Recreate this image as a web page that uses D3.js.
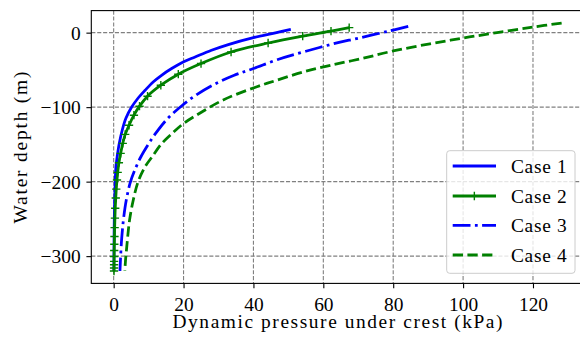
<!DOCTYPE html>
<html>
<head>
<meta charset="utf-8">
<script src="https://cdn.jsdelivr.net/npm/d3@7"></script>
<style>
  html, body { margin: 0; padding: 0; background: #fff; overflow: hidden; }
  svg { display: block; }
</style>
</head>
<body>
<svg id="chart" width="580" height="345"></svg>
<script>
// Tick values
const xTicks = [0, 20, 40, 60, 80, 100, 120];
const yTicks = [0, -100, -200, -300];
const caseNames = ["Case 1", "Case 2", "Case 3", "Case 4"];

// Case 1: water depth (m) and dynamic pressure (kPa)
const case1Depth = [4.4, 0, -6.7, -16, -23.7, -32.7, -39.4, -48.2, -57.2, -66.2, -77.3, -88.4, -99.6, -115, -130, -148.7, -165, -180, -200, -225, -250, -275, -300, -320];
const case1Pressure = [50.7, 46.6, 40.0, 32.8, 28.0, 23.3, 19.9, 16.6, 13.7, 11.3, 9.0, 6.9, 5.2, 3.5, 2.5, 1.6, 1.05, 0.66, 0.45, 0.29, 0.18, 0.12, 0.08, 0.06];

// Case 2
const case2Depth = [6.7, 2.1, -4.6, -13.9, -26.0, -41.5, -55.8, -70.6, -85.3, -98.7, -110.8, -124.3, -136.6, -148.7, -162, -174.6, -187.5, -197.8, -210, -222, -235.7, -249, -261.7, -273.7, -284, -292.5, -300.5, -307, -311.6, -316, -320];
const case2Pressure = [67.4, 62.2, 54.1, 44.2, 33.6, 25.0, 18.5, 13.5, 9.7, 7.4, 5.8, 4.4, 3.3, 2.6, 2.0, 1.5, 1.15, 0.95, 0.75, 0.6, 0.45, 0.36, 0.28, 0.23, 0.19, 0.16, 0.14, 0.13, 0.12, 0.11, 0.1];

// Case 3
const case3Depth = [8.4, 2.4, -8, -13, -25, -36, -48.2, -57.2, -70, -84, -97.8, -115, -135.3, -150, -166.6, -185, -202, -225, -247, -265, -282.6, -300, -320];
const case3Pressure = [84.3, 79.0, 69.5, 64.5, 55.0, 47.0, 40.0, 34.5, 28.5, 23.5, 19.6, 15.5, 12.0, 9.9, 7.8, 6.0, 4.7, 3.6, 2.9, 2.5, 2.2, 2.0, 1.8];

// Case 4
const case4Depth = [12.9, 7.5, 0, -7.2, -15, -24.6, -34.8, -43.8, -53, -64, -72.9, -90, -108.5, -121.9, -135, -148.7, -166.6, -180, -200, -225, -250, -270, -290, -305, -320];
const case4Pressure = [128.2, 120.0, 109.7, 100.0, 90.5, 80.0, 71.0, 62.0, 54.1, 46.6, 40.8, 31.5, 24.5, 20.0, 16.8, 13.8, 11.0, 9.0, 7.0, 5.6, 4.6, 4.1, 3.7, 3.4, 3.2];

// Layout
const plot = { left: 91.3, right: 583.3, top: 10.6, bottom: 283.4 };
const x = d3.scaleLinear().domain([-6.4, 134.4]).range([plot.left, plot.right]);
const y = d3.scaleLinear().domain([-336.6, 29.6]).range([plot.bottom, plot.top]);

const svg = d3.select("#chart");
const FONT = '"Liberation Serif"';
const FS = 19.4;
const LW = 2.78;
const minusFmt = d => d3.format("d")(d).replace("-", "\u2212");

const series = [
  { name: caseNames[0], depth: case1Depth, pressure: case1Pressure, color: "#0000ff", dash: null, marker: false },
  { name: caseNames[1], depth: case2Depth, pressure: case2Pressure, color: "#008000", dash: null, marker: true },
  { name: caseNames[2], depth: case3Depth, pressure: case3Pressure, color: "#0000ff", dash: "17.8,4.4,2.8,4.4", marker: false },
  { name: caseNames[3], depth: case4Depth, pressure: case4Pressure, color: "#008000", dash: "10.3,4.4", marker: false }
];

svg.append("defs").append("clipPath").attr("id", "plotClip")
  .append("rect")
  .attr("x", plot.left).attr("y", plot.top)
  .attr("width", plot.right - plot.left).attr("height", plot.bottom - plot.top);

// Grid
const grid = svg.append("g").attr("stroke", "#808080").attr("stroke-width", 1.1).attr("stroke-dasharray", "4.1,1.8");
grid.selectAll("line.gx").data(xTicks).join("line")
  .attr("class", "gx")
  .attr("x1", d => x(d)).attr("x2", d => x(d))
  .attr("y1", plot.top).attr("y2", plot.bottom);
grid.selectAll("line.gy").data(yTicks).join("line")
  .attr("class", "gy")
  .attr("x1", plot.left).attr("x2", plot.right)
  .attr("y1", d => y(d)).attr("y2", d => y(d));

// Curves
const line = d3.line()
  .x(d => x(d.p))
  .y(d => y(d.z))
  .curve(d3.curveCatmullRom.alpha(0.5));

const curves = svg.append("g").attr("clip-path", "url(#plotClip)");
const plus = "M-4.15,0H4.15M0,-4.15V4.15";

series.forEach(s => {
  const pts = s.depth.map((z, i) => ({ z: z, p: s.pressure[i] }));
  curves.append("path")
    .attr("d", line(pts))
    .attr("fill", "none")
    .attr("stroke", s.color)
    .attr("stroke-width", LW)
    .attr("stroke-dasharray", s.dash)
    .attr("stroke-linejoin", "round");
  if (s.marker) {
    curves.selectAll(null).data(pts).join("path")
      .attr("d", plus)
      .attr("transform", d => `translate(${x(d.p)},${y(d.z)})`)
      .attr("stroke", s.color)
      .attr("stroke-width", 1.4)
      .attr("fill", "none");
  }
});

// Axes
const xAxis = d3.axisBottom(x).tickValues(xTicks).tickSize(4.9).tickFormat(minusFmt);
const yAxis = d3.axisLeft(y).tickValues(yTicks).tickSize(4.9).tickPadding(5.8).tickFormat(minusFmt);

const gx = svg.append("g").attr("transform", `translate(0,${plot.bottom})`).call(xAxis);
const gy = svg.append("g").attr("transform", `translate(${plot.left},0)`).call(yAxis);
[gx, gy].forEach(g => {
  g.attr("font-family", null).attr("font-size", null);
  g.select(".domain").remove();
  g.selectAll(".tick line").attr("stroke", "#000").attr("stroke-width", 1.1);
  g.selectAll(".tick text")
    .style("font-family", FONT).style("font-size", FS + "px")
    .attr("fill", "#000");
});
gx.selectAll(".tick text").attr("y", 27.3).attr("dy", 0);
gy.selectAll(".tick text").attr("dy", "0.33em");

// Frame
svg.append("rect")
  .attr("x", plot.left).attr("y", plot.top)
  .attr("width", plot.right - plot.left).attr("height", plot.bottom - plot.top)
  .attr("fill", "none").attr("stroke", "#000").attr("stroke-width", 1.1);

// Axis titles
svg.append("text")
  .attr("x", 337.5).attr("y", 327.5)
  .attr("text-anchor", "middle")
  .style("font-family", FONT).style("font-size", FS + "px")
  .attr("fill", "#000")
  .attr("textLength", 330).attr("lengthAdjust", "spacing")
  .text("Dynamic pressure under crest (kPa)");

svg.append("text")
  .attr("transform", "translate(27,147.5) rotate(-90)")
  .attr("text-anchor", "middle")
  .style("font-family", FONT).style("font-size", FS + "px")
  .attr("fill", "#000")
  .attr("textLength", 152).attr("lengthAdjust", "spacing")
  .text("Water depth (m)");

// Legend
const legend = svg.append("g");
legend.append("rect")
  .attr("x", 446.7).attr("y", 150.7)
  .attr("width", 128.3).attr("height", 122.6)
  .attr("rx", 3).attr("ry", 3)
  .attr("fill", "#fff").attr("fill-opacity", 0.8)
  .attr("stroke", "#cccccc").attr("stroke-width", 1);

const rowY = [166, 196, 225.3, 255];
series.forEach((s, i) => {
  const ry = rowY[i];
  legend.append("line")
    .attr("x1", 452.7).attr("x2", 496).attr("y1", ry).attr("y2", ry)
    .attr("stroke", s.color).attr("stroke-width", LW)
    .attr("stroke-dasharray", s.dash);
  if (s.marker) {
    legend.append("path").attr("d", plus)
      .attr("transform", `translate(${(452.7 + 496) / 2},${ry})`)
      .attr("stroke", s.color).attr("stroke-width", 1.4).attr("fill", "none");
  }
  legend.append("text")
    .attr("x", 511).attr("y", ry + 6.5)
    .style("font-family", FONT).style("font-size", FS + "px")
    .attr("fill", "#000")
    .attr("textLength", 55.7).attr("lengthAdjust", "spacing")
    .text(s.name);
});
</script>
</body>
</html>
